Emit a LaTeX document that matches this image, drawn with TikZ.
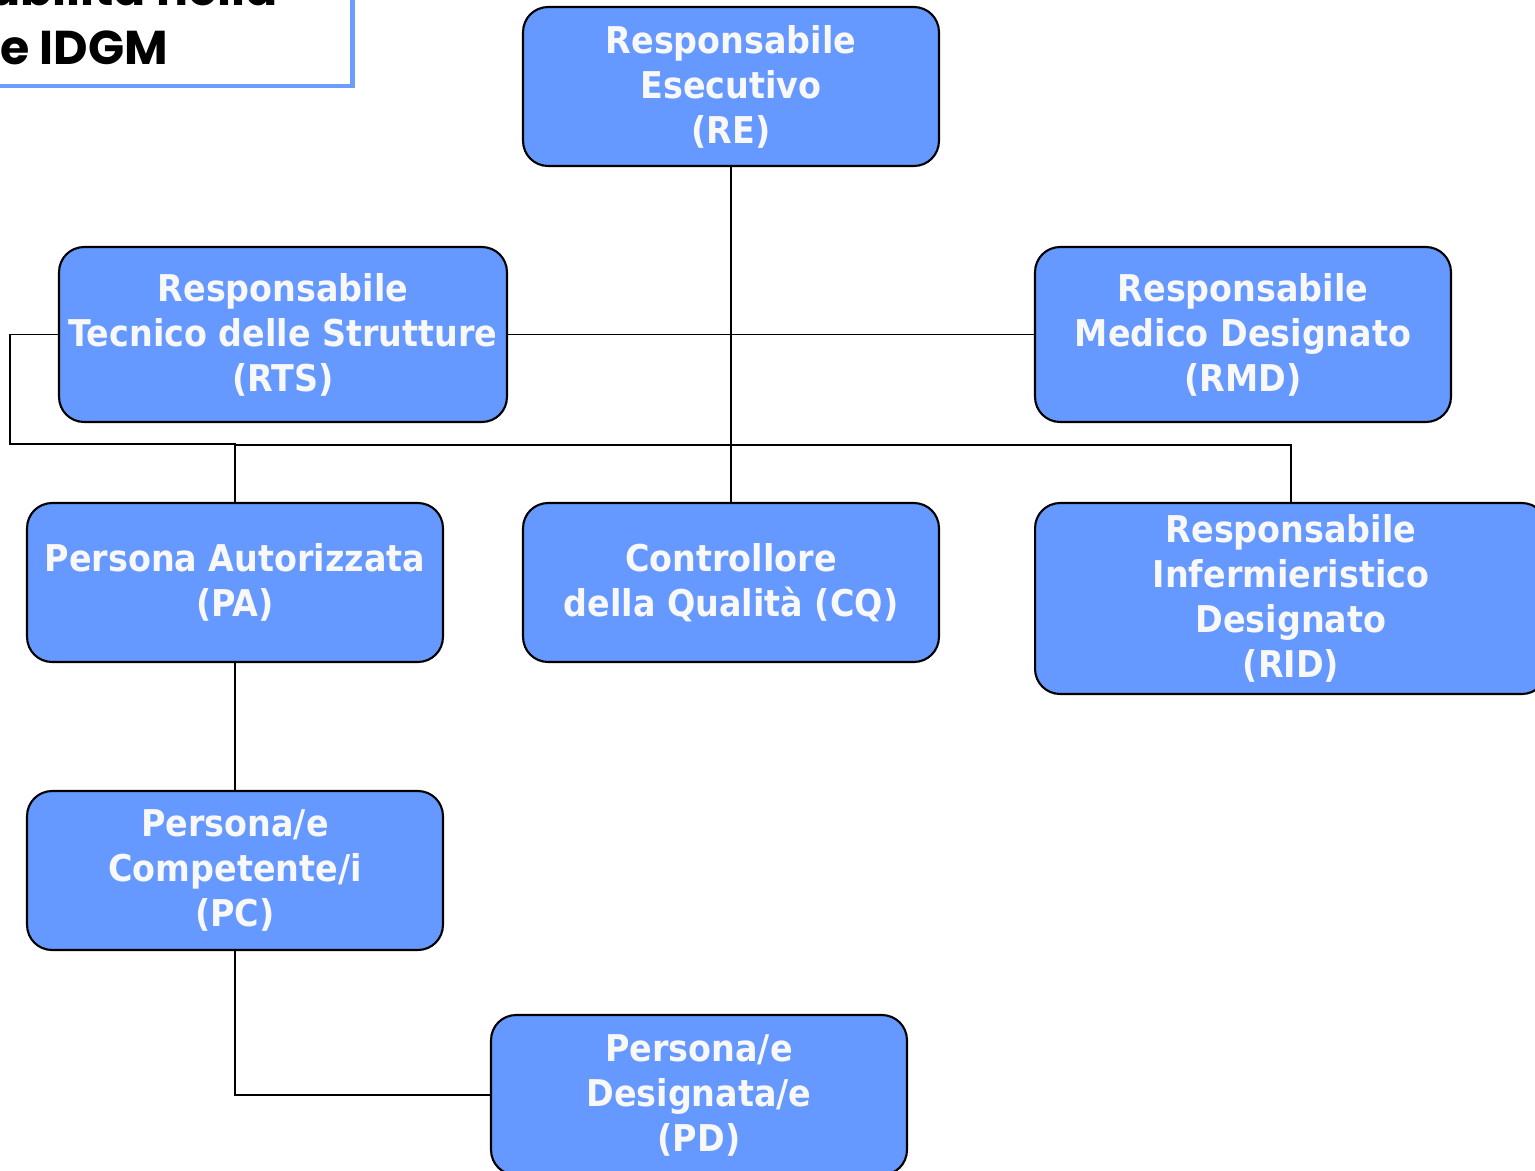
\documentclass[tikz,border=0pt]{standalone}
\usepackage{fontspec}
\newfontfamily\boxfont{DejaVu Sans Bold}[FakeStretch=0.905]
\newfontfamily\titlefont{Poppins}
\usetikzlibrary{positioning}
\definecolor{boxblue}{HTML}{6699FF}
\definecolor{boxtext}{HTML}{F8F8F8}
\definecolor{titleblue}{HTML}{6C9CFF}
\tikzset{role/.style={draw=black, line width=1.2pt, fill=boxblue, rounded corners=0.5cm, text=boxtext, align=center,
    minimum width=8.32cm, minimum height=3.18cm, inner sep=0pt, font=\boxfont\fontsize{21}{25.6}\selectfont}}
\tikzset{link/.style={line width=1.1pt}}

\begin{document}
\begin{tikzpicture}[x=0.02cm, y=-0.02cm]
    \useasboundingbox (0,0) rectangle (1535,1170);
    \clip (0,0) rectangle (1535,1170);
    % title box, cut by the page edge
    \draw[titleblue, fill=white, line width=2.3pt] (-20,-20) rectangle (352.5,86);
    \node[anchor=base east, inner sep=0pt, font=\titlefont\bfseries\fontsize{27}{32}\selectfont] (title1) at (278,5) {abilità nella};
    \node[anchor=base west, inner sep=0pt, font=\titlefont\bfseries\fontsize{27}{32}\selectfont] (title2) at (0,64) {e IDGM};
    % roles
    \node[role] (RE) at (731,86.5) {Responsabile\\Esecutivo\\(RE)};
    \node[role, minimum width=8.96cm, minimum height=3.5cm] (RTS) at (283,334.5) {Responsabile\\Tecnico delle Strutture\\(RTS)};
    \node[role, minimum height=3.5cm] (RMD) at (1243,334.5) {Responsabile\\Medico Designato\\(RMD)};
    \node[role] (PA) at (235,582.5) {Persona Autorizzata\\(PA)};
    \node[role] (CQ) at (731,582.5) {Controllore\\della Qualità (CQ)};
    \node[role, minimum width=10.24cm, minimum height=3.82cm] (RID) at (1291,598.5) {Responsabile\\Infermieristico\\Designato\\(RID)};
    \node[role] (PC) at (235,870.5) {Persona/e\\Competente/i\\(PC)};
    \node[role, minimum height=3.2cm] (PD) at (699,1095) {Persona/e\\Designata/e\\(PD)};
    % connectors
    \coordinate (busL) at (10,444);
    \coordinate (busR) at (235,445);
    \draw[link] (RE.south) -- (CQ.north);
    \draw[link] (RTS.east) -- (RMD.west);
    \draw[link] (RTS.west) -| (busL) -| (PA.north);
    \draw[link] (busR) -| (RID.north);
    \draw[link] (PA.south) -- (PC.north);
    \draw[link] (PC.south) |- (PD.west);
\end{tikzpicture}
\end{document}
